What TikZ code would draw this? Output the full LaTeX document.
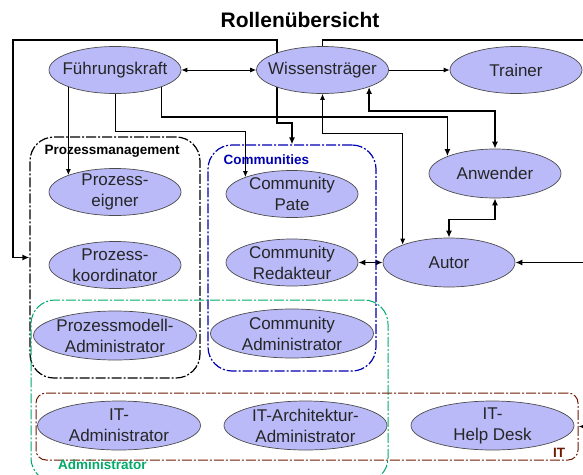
\documentclass[tikz,border=0pt]{standalone}
\usepackage{fontspec}
\setmainfont{Liberation Sans}
\usetikzlibrary{shapes.geometric,arrows.meta,backgrounds}
\definecolor{rolefill}{RGB}{186,186,248}
\definecolor{commblue}{RGB}{0,0,175}
\definecolor{admgreen}{RGB}{0,170,105}
\definecolor{itbrown}{RGB}{110,25,0}

\begin{document}
\begin{tikzpicture}[x=1pt, y=-1pt,
  role/.style={ellipse, draw=black!70, line width=0.7pt, fill=rolefill, inner sep=0pt,
               minimum width=132pt, minimum height=47pt},
  wrole/.style={role, minimum width=163pt, minimum height=49pt},
  rtext/.style={align=center, text=black!85, inner sep=0pt,
                font=\fontsize{17}{21}\selectfont},
  grp/.style={rounded corners=24pt, line width=1.2pt, inner sep=0pt,
              dash pattern=on 10pt off 2pt on 2pt off 2pt},
  grplbl/.style={font=\fontsize{13.5}{15}\selectfont\bfseries, inner sep=0pt},
  thinarr/.style={->, >={Latex[length=6pt,width=5pt]}, line width=0.8pt},
  thickarr/.style={->, >={Latex[length=7pt,width=6pt]}, line width=1.6pt}]

\useasboundingbox (0,0) rectangle (583,474);

% title
\node[font=\fontsize{21}{24}\selectfont\bfseries] (title) at (300,20) {Rollenübersicht};

% groups
\node[grp, draw=black, minimum width=170pt, minimum height=241pt] (pmbox) at (115,257.5) {};
\node[grp, draw=commblue, minimum width=168pt, minimum height=226pt] (commbox) at (292,258) {};
\node[grp, draw=admgreen, line width=1pt, minimum width=357pt, minimum height=182pt] (admbox) at (209.5,391) {};
\node[grp, draw=itbrown, line width=1pt, rounded corners=10pt,
      minimum width=542pt, minimum height=67pt] (itbox) at (307,426.5) {};

\node[grplbl, anchor=west] (pmlbl) at ([xshift=15pt,yshift=-15pt]pmbox.north west) {Prozessmanagement};
\node[grplbl, anchor=west, text=commblue] (commlbl) at ([xshift=16pt,yshift=-15pt]commbox.north west) {Communities};
\node[grplbl, anchor=west, text=admgreen] (admlbl) at (58,465) {Administrator};
\node[grplbl, text=itbrown] (itlbl) at (559,452.5) {IT};

% roles
\node[role, label={[rtext]center:Führungskraft}] (fk) at (115,70) {};
\node[role, label={[rtext]center:Wissensträger}] (wiss) at (322.5,70) {};
\node[role, label={[rtext]center:Trainer}] (trn) at (516,70) {};
\node[role, minimum height=49pt, label={[rtext]center:Anwender}] (anw) at (495,173.5) {};
\node[role, minimum height=49pt, label={[rtext]center:Autor}] (aut) at (449,262.5) {};

\node[role, label={[rtext]center:{Prozess-\\eigner}}] (eig) at (115,192) {};
\node[role, label={[rtext]center:{Prozess-\\koordinator}}] (koo) at (115,265) {};
\node[wrole, label={[rtext]center:{Prozessmodell-\\Administrator}}] (pma) at (115,335.5) {};

\node[role, label={[rtext]center:{Community\\Pate}}] (pate) at (292,194) {};
\node[role, label={[rtext]center:{Community\\Redakteur}}] (red) at (292,262.5) {};
\node[wrole, label={[rtext]center:{Community\\Administrator}}] (cad) at (292,333.5) {};

\node[wrole, label={[rtext]center:{IT-\\Administrator}}] (ita) at (119,425.5) {};
\node[wrole, label={[rtext]center:{IT-Architektur-\\Administrator}}] (iarch) at (305.5,425.5) {};
\node[wrole, label={[rtext]center:{IT-\\Help Desk}}] (ihd) at (492.5,425.5) {};

% connectors (behind the roles)
\begin{scope}[on background layer]
\draw[thinarr, <->] (fk) -- (wiss);
\draw[thinarr] (wiss) -- (trn);
\draw[thinarr] (fk.center -| eig.160) -- (eig.160);
\draw[thinarr] (fk.south) -- ++(0,38) -| (pate.160);
\draw[thickarr] (fk.-20) -- ++(0,30) -| (anw.160);
\draw[thickarr, <->] (wiss.-20) -- ++(0,24) -| (anw.north);
\draw[thinarr, <->] (wiss.south) -- ++(0,40) -| (aut.159);
\draw[thickarr, <->] (anw.south) -- ++(0,21) -| (aut.north);
\draw[thickarr, <->] (red) -- (aut);
\draw[thickarr] (wiss.north) |- (590,40) |- (aut.east);
\draw[thickarr, <->] (pmbox.west) -| (13,40) -| (277,123) -| (commbox.north);
\coordinate (itin) at (590,426.5);
\draw[thickarr] (itin) -- (itbox.east);
\end{scope}
\end{tikzpicture}
\end{document}
